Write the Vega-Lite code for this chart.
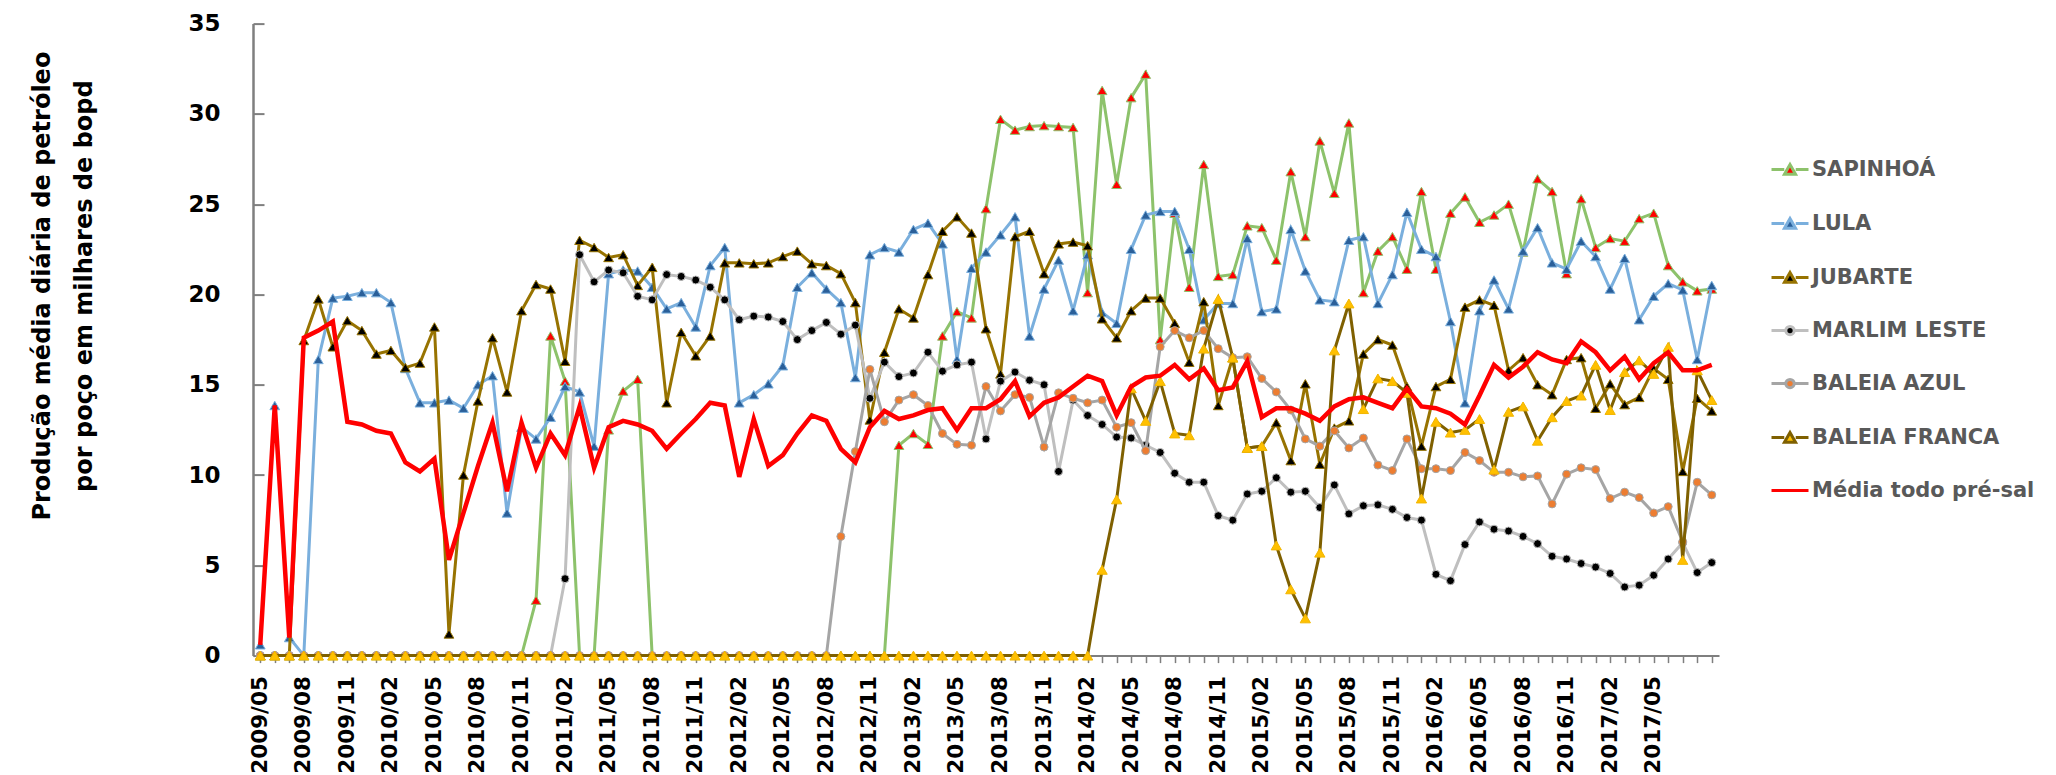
{
"$schema": "https://vega.github.io/schema/vega-lite/v6.json",
"width": 1466, "height": 632,
"autosize": {"type": "none"},
"padding": {"left": 253, "top": 23.6, "right": 337, "bottom": 119.4},
"background": "white",
"config": {"view": {"stroke": null}},
"resolve": {"axis": {"y": "independent"}},
"data": {"values": [
{"m":"2009/05","SAPINHOÁ":0,"LULA":0.6,"JUBARTE":0,"MARLIM LESTE":0,"BALEIA AZUL":0,"BALEIA FRANCA":0,"Média todo pré-sal":0.6},
{"m":"2009/06","SAPINHOÁ":0,"LULA":13.85,"JUBARTE":0,"MARLIM LESTE":0,"BALEIA AZUL":0,"BALEIA FRANCA":0,"Média todo pré-sal":13.85},
{"m":"2009/07","SAPINHOÁ":0,"LULA":1.0,"JUBARTE":0,"MARLIM LESTE":0,"BALEIA AZUL":0,"BALEIA FRANCA":0,"Média todo pré-sal":1.0},
{"m":"2009/08","SAPINHOÁ":0,"LULA":0,"JUBARTE":17.45,"MARLIM LESTE":0,"BALEIA AZUL":0,"BALEIA FRANCA":0,"Média todo pré-sal":17.6},
{"m":"2009/09","SAPINHOÁ":0,"LULA":16.4,"JUBARTE":19.75,"MARLIM LESTE":0,"BALEIA AZUL":0,"BALEIA FRANCA":0,"Média todo pré-sal":18.0},
{"m":"2009/10","SAPINHOÁ":0,"LULA":19.8,"JUBARTE":17.1,"MARLIM LESTE":0,"BALEIA AZUL":0,"BALEIA FRANCA":0,"Média todo pré-sal":18.5},
{"m":"2009/11","SAPINHOÁ":0,"LULA":19.9,"JUBARTE":18.55,"MARLIM LESTE":0,"BALEIA AZUL":0,"BALEIA FRANCA":0,"Média todo pré-sal":12.95},
{"m":"2009/12","SAPINHOÁ":0,"LULA":20.1,"JUBARTE":18.0,"MARLIM LESTE":0,"BALEIA AZUL":0,"BALEIA FRANCA":0,"Média todo pré-sal":12.8},
{"m":"2010/01","SAPINHOÁ":0,"LULA":20.1,"JUBARTE":16.7,"MARLIM LESTE":0,"BALEIA AZUL":0,"BALEIA FRANCA":0,"Média todo pré-sal":12.45},
{"m":"2010/02","SAPINHOÁ":0,"LULA":19.55,"JUBARTE":16.9,"MARLIM LESTE":0,"BALEIA AZUL":0,"BALEIA FRANCA":0,"Média todo pré-sal":12.3},
{"m":"2010/03","SAPINHOÁ":0,"LULA":15.9,"JUBARTE":15.95,"MARLIM LESTE":0,"BALEIA AZUL":0,"BALEIA FRANCA":0,"Média todo pré-sal":10.7},
{"m":"2010/04","SAPINHOÁ":0,"LULA":14.0,"JUBARTE":16.2,"MARLIM LESTE":0,"BALEIA AZUL":0,"BALEIA FRANCA":0,"Média todo pré-sal":10.2},
{"m":"2010/05","SAPINHOÁ":0,"LULA":14.0,"JUBARTE":18.2,"MARLIM LESTE":0,"BALEIA AZUL":0,"BALEIA FRANCA":0,"Média todo pré-sal":10.9},
{"m":"2010/06","SAPINHOÁ":0,"LULA":14.15,"JUBARTE":1.2,"MARLIM LESTE":0,"BALEIA AZUL":0,"BALEIA FRANCA":0,"Média todo pré-sal":5.3},
{"m":"2010/07","SAPINHOÁ":0,"LULA":13.7,"JUBARTE":10.0,"MARLIM LESTE":0,"BALEIA AZUL":0,"BALEIA FRANCA":0,"Média todo pré-sal":7.9},
{"m":"2010/08","SAPINHOÁ":0,"LULA":15.0,"JUBARTE":14.1,"MARLIM LESTE":0,"BALEIA AZUL":0,"BALEIA FRANCA":0,"Média todo pré-sal":10.5},
{"m":"2010/09","SAPINHOÁ":0,"LULA":15.5,"JUBARTE":17.6,"MARLIM LESTE":0,"BALEIA AZUL":0,"BALEIA FRANCA":0,"Média todo pré-sal":12.9},
{"m":"2010/10","SAPINHOÁ":0,"LULA":7.9,"JUBARTE":14.6,"MARLIM LESTE":0,"BALEIA AZUL":0,"BALEIA FRANCA":0,"Média todo pré-sal":9.1},
{"m":"2010/11","SAPINHOÁ":0,"LULA":12.65,"JUBARTE":19.1,"MARLIM LESTE":0,"BALEIA AZUL":0,"BALEIA FRANCA":0,"Média todo pré-sal":12.9},
{"m":"2010/12","SAPINHOÁ":3.07,"LULA":12.0,"JUBARTE":20.55,"MARLIM LESTE":0,"BALEIA AZUL":0,"BALEIA FRANCA":0,"Média todo pré-sal":10.4},
{"m":"2011/01","SAPINHOÁ":17.7,"LULA":13.2,"JUBARTE":20.3,"MARLIM LESTE":0,"BALEIA AZUL":0,"BALEIA FRANCA":0,"Média todo pré-sal":12.3},
{"m":"2011/02","SAPINHOÁ":15.2,"LULA":14.9,"JUBARTE":16.3,"MARLIM LESTE":4.26,"BALEIA AZUL":0,"BALEIA FRANCA":0,"Média todo pré-sal":11.1},
{"m":"2011/03","SAPINHOÁ":0,"LULA":14.6,"JUBARTE":23.0,"MARLIM LESTE":22.2,"BALEIA AZUL":0,"BALEIA FRANCA":0,"Média todo pré-sal":13.8},
{"m":"2011/04","SAPINHOÁ":0,"LULA":11.6,"JUBARTE":22.6,"MARLIM LESTE":20.7,"BALEIA AZUL":0,"BALEIA FRANCA":0,"Média todo pré-sal":10.4},
{"m":"2011/05","SAPINHOÁ":12.5,"LULA":21.15,"JUBARTE":22.05,"MARLIM LESTE":21.35,"BALEIA AZUL":0,"BALEIA FRANCA":0,"Média todo pré-sal":12.65},
{"m":"2011/06","SAPINHOÁ":14.65,"LULA":21.35,"JUBARTE":22.2,"MARLIM LESTE":21.2,"BALEIA AZUL":0,"BALEIA FRANCA":0,"Média todo pré-sal":13.0},
{"m":"2011/07","SAPINHOÁ":15.3,"LULA":21.3,"JUBARTE":20.5,"MARLIM LESTE":19.9,"BALEIA AZUL":0,"BALEIA FRANCA":0,"Média todo pré-sal":12.8},
{"m":"2011/08","SAPINHOÁ":0,"LULA":20.4,"JUBARTE":21.5,"MARLIM LESTE":19.7,"BALEIA AZUL":0,"BALEIA FRANCA":0,"Média todo pré-sal":12.45},
{"m":"2011/09","SAPINHOÁ":0,"LULA":19.2,"JUBARTE":14.0,"MARLIM LESTE":21.1,"BALEIA AZUL":0,"BALEIA FRANCA":0,"Média todo pré-sal":11.45},
{"m":"2011/10","SAPINHOÁ":0,"LULA":19.55,"JUBARTE":17.9,"MARLIM LESTE":21.0,"BALEIA AZUL":0,"BALEIA FRANCA":0,"Média todo pré-sal":12.3},
{"m":"2011/11","SAPINHOÁ":0,"LULA":18.2,"JUBARTE":16.6,"MARLIM LESTE":20.8,"BALEIA AZUL":0,"BALEIA FRANCA":0,"Média todo pré-sal":13.1},
{"m":"2011/12","SAPINHOÁ":0,"LULA":21.6,"JUBARTE":17.7,"MARLIM LESTE":20.4,"BALEIA AZUL":0,"BALEIA FRANCA":0,"Média todo pré-sal":14.0},
{"m":"2012/01","SAPINHOÁ":0,"LULA":22.6,"JUBARTE":21.75,"MARLIM LESTE":19.7,"BALEIA AZUL":0,"BALEIA FRANCA":0,"Média todo pré-sal":13.85},
{"m":"2012/02","SAPINHOÁ":0,"LULA":14.0,"JUBARTE":21.75,"MARLIM LESTE":18.6,"BALEIA AZUL":0,"BALEIA FRANCA":0,"Média todo pré-sal":9.9},
{"m":"2012/03","SAPINHOÁ":0,"LULA":14.45,"JUBARTE":21.7,"MARLIM LESTE":18.8,"BALEIA AZUL":0,"BALEIA FRANCA":0,"Média todo pré-sal":13.1},
{"m":"2012/04","SAPINHOÁ":0,"LULA":15.05,"JUBARTE":21.75,"MARLIM LESTE":18.75,"BALEIA AZUL":0,"BALEIA FRANCA":0,"Média todo pré-sal":10.5},
{"m":"2012/05","SAPINHOÁ":0,"LULA":16.05,"JUBARTE":22.1,"MARLIM LESTE":18.5,"BALEIA AZUL":0,"BALEIA FRANCA":0,"Média todo pré-sal":11.1},
{"m":"2012/06","SAPINHOÁ":0,"LULA":20.4,"JUBARTE":22.4,"MARLIM LESTE":17.5,"BALEIA AZUL":0,"BALEIA FRANCA":0,"Média todo pré-sal":12.3},
{"m":"2012/07","SAPINHOÁ":0,"LULA":21.2,"JUBARTE":21.7,"MARLIM LESTE":18.0,"BALEIA AZUL":0,"BALEIA FRANCA":0,"Média todo pré-sal":13.3},
{"m":"2012/08","SAPINHOÁ":0,"LULA":20.3,"JUBARTE":21.6,"MARLIM LESTE":18.45,"BALEIA AZUL":0,"BALEIA FRANCA":0,"Média todo pré-sal":13.0},
{"m":"2012/09","SAPINHOÁ":0,"LULA":19.55,"JUBARTE":21.15,"MARLIM LESTE":17.8,"BALEIA AZUL":6.6,"BALEIA FRANCA":0,"Média todo pré-sal":11.45},
{"m":"2012/10","SAPINHOÁ":0,"LULA":15.4,"JUBARTE":19.55,"MARLIM LESTE":18.3,"BALEIA AZUL":11.3,"BALEIA FRANCA":0,"Média todo pré-sal":10.7},
{"m":"2012/11","SAPINHOÁ":0,"LULA":22.2,"JUBARTE":13.05,"MARLIM LESTE":14.25,"BALEIA AZUL":15.85,"BALEIA FRANCA":0,"Média todo pré-sal":12.65},
{"m":"2012/12","SAPINHOÁ":0,"LULA":22.6,"JUBARTE":16.8,"MARLIM LESTE":16.25,"BALEIA AZUL":12.95,"BALEIA FRANCA":0,"Média todo pré-sal":13.55},
{"m":"2013/01","SAPINHOÁ":11.65,"LULA":22.35,"JUBARTE":19.2,"MARLIM LESTE":15.45,"BALEIA AZUL":14.15,"BALEIA FRANCA":0,"Média todo pré-sal":13.1},
{"m":"2013/02","SAPINHOÁ":12.3,"LULA":23.6,"JUBARTE":18.7,"MARLIM LESTE":15.65,"BALEIA AZUL":14.45,"BALEIA FRANCA":0,"Média todo pré-sal":13.3},
{"m":"2013/03","SAPINHOÁ":11.7,"LULA":23.95,"JUBARTE":21.1,"MARLIM LESTE":16.8,"BALEIA AZUL":13.85,"BALEIA FRANCA":0,"Média todo pré-sal":13.6},
{"m":"2013/04","SAPINHOÁ":17.7,"LULA":22.8,"JUBARTE":23.5,"MARLIM LESTE":15.75,"BALEIA AZUL":12.3,"BALEIA FRANCA":0,"Média todo pré-sal":13.7},
{"m":"2013/05","SAPINHOÁ":19.05,"LULA":16.4,"JUBARTE":24.3,"MARLIM LESTE":16.1,"BALEIA AZUL":11.7,"BALEIA FRANCA":0,"Média todo pré-sal":12.5},
{"m":"2013/06","SAPINHOÁ":18.7,"LULA":21.45,"JUBARTE":23.4,"MARLIM LESTE":16.25,"BALEIA AZUL":11.65,"BALEIA FRANCA":0,"Média todo pré-sal":13.7},
{"m":"2013/07","SAPINHOÁ":24.75,"LULA":22.35,"JUBARTE":18.1,"MARLIM LESTE":12.0,"BALEIA AZUL":14.9,"BALEIA FRANCA":0,"Média todo pré-sal":13.7},
{"m":"2013/08","SAPINHOÁ":29.7,"LULA":23.3,"JUBARTE":15.6,"MARLIM LESTE":15.2,"BALEIA AZUL":13.55,"BALEIA FRANCA":0,"Média todo pré-sal":14.2},
{"m":"2013/09","SAPINHOÁ":29.1,"LULA":24.3,"JUBARTE":23.2,"MARLIM LESTE":15.7,"BALEIA AZUL":14.45,"BALEIA FRANCA":0,"Média todo pré-sal":15.2},
{"m":"2013/10","SAPINHOÁ":29.3,"LULA":17.7,"JUBARTE":23.5,"MARLIM LESTE":15.25,"BALEIA AZUL":14.3,"BALEIA FRANCA":0,"Média todo pré-sal":13.25},
{"m":"2013/11","SAPINHOÁ":29.35,"LULA":20.3,"JUBARTE":21.15,"MARLIM LESTE":15.0,"BALEIA AZUL":11.55,"BALEIA FRANCA":0,"Média todo pré-sal":14.0},
{"m":"2013/12","SAPINHOÁ":29.3,"LULA":21.9,"JUBARTE":22.8,"MARLIM LESTE":10.2,"BALEIA AZUL":14.55,"BALEIA FRANCA":0,"Média todo pré-sal":14.3},
{"m":"2014/01","SAPINHOÁ":29.25,"LULA":19.1,"JUBARTE":22.9,"MARLIM LESTE":14.15,"BALEIA AZUL":14.25,"BALEIA FRANCA":0,"Média todo pré-sal":14.9},
{"m":"2014/02","SAPINHOÁ":20.1,"LULA":22.2,"JUBARTE":22.7,"MARLIM LESTE":13.3,"BALEIA AZUL":14.0,"BALEIA FRANCA":0,"Média todo pré-sal":15.5},
{"m":"2014/03","SAPINHOÁ":31.3,"LULA":19.0,"JUBARTE":18.65,"MARLIM LESTE":12.8,"BALEIA AZUL":14.15,"BALEIA FRANCA":4.75,"Média todo pré-sal":15.2},
{"m":"2014/04","SAPINHOÁ":26.1,"LULA":18.4,"JUBARTE":17.6,"MARLIM LESTE":12.1,"BALEIA AZUL":12.65,"BALEIA FRANCA":8.65,"Média todo pré-sal":13.3},
{"m":"2014/05","SAPINHOÁ":30.9,"LULA":22.5,"JUBARTE":19.1,"MARLIM LESTE":12.05,"BALEIA AZUL":12.9,"BALEIA FRANCA":14.8,"Média todo pré-sal":14.9},
{"m":"2014/06","SAPINHOÁ":32.2,"LULA":24.4,"JUBARTE":19.8,"MARLIM LESTE":11.65,"BALEIA AZUL":11.35,"BALEIA FRANCA":13.0,"Média todo pré-sal":15.4},
{"m":"2014/07","SAPINHOÁ":17.5,"LULA":24.6,"JUBARTE":19.8,"MARLIM LESTE":11.25,"BALEIA AZUL":17.1,"BALEIA FRANCA":15.2,"Média todo pré-sal":15.5},
{"m":"2014/08","SAPINHOÁ":24.5,"LULA":24.6,"JUBARTE":18.4,"MARLIM LESTE":10.1,"BALEIA AZUL":18.0,"BALEIA FRANCA":12.3,"Média todo pré-sal":16.1},
{"m":"2014/09","SAPINHOÁ":20.4,"LULA":22.5,"JUBARTE":16.25,"MARLIM LESTE":9.6,"BALEIA AZUL":17.6,"BALEIA FRANCA":12.2,"Média todo pré-sal":15.3},
{"m":"2014/10","SAPINHOÁ":27.2,"LULA":18.6,"JUBARTE":19.6,"MARLIM LESTE":9.6,"BALEIA AZUL":18.0,"BALEIA FRANCA":17.0,"Média todo pré-sal":15.9},
{"m":"2014/11","SAPINHOÁ":21.0,"LULA":19.5,"JUBARTE":13.85,"MARLIM LESTE":7.75,"BALEIA AZUL":17.0,"BALEIA FRANCA":19.75,"Média todo pré-sal":14.7},
{"m":"2014/12","SAPINHOÁ":21.1,"LULA":19.5,"JUBARTE":16.5,"MARLIM LESTE":7.5,"BALEIA AZUL":16.5,"BALEIA FRANCA":16.5,"Média todo pré-sal":14.85},
{"m":"2015/01","SAPINHOÁ":23.8,"LULA":23.1,"JUBARTE":11.5,"MARLIM LESTE":8.95,"BALEIA AZUL":16.55,"BALEIA FRANCA":11.5,"Média todo pré-sal":16.3},
{"m":"2015/02","SAPINHOÁ":23.7,"LULA":19.05,"JUBARTE":11.6,"MARLIM LESTE":9.1,"BALEIA AZUL":15.35,"BALEIA FRANCA":11.6,"Média todo pré-sal":13.2},
{"m":"2015/03","SAPINHOÁ":21.9,"LULA":19.2,"JUBARTE":12.9,"MARLIM LESTE":9.85,"BALEIA AZUL":14.6,"BALEIA FRANCA":6.1,"Média todo pré-sal":13.7},
{"m":"2015/04","SAPINHOÁ":26.8,"LULA":23.6,"JUBARTE":10.8,"MARLIM LESTE":9.05,"BALEIA AZUL":13.6,"BALEIA FRANCA":3.67,"Média todo pré-sal":13.7},
{"m":"2015/05","SAPINHOÁ":23.2,"LULA":21.3,"JUBARTE":15.05,"MARLIM LESTE":9.1,"BALEIA AZUL":12.0,"BALEIA FRANCA":2.06,"Média todo pré-sal":13.4},
{"m":"2015/06","SAPINHOÁ":28.5,"LULA":19.7,"JUBARTE":10.6,"MARLIM LESTE":8.2,"BALEIA AZUL":11.6,"BALEIA FRANCA":5.7,"Média todo pré-sal":13.0},
{"m":"2015/07","SAPINHOÁ":25.6,"LULA":19.6,"JUBARTE":12.6,"MARLIM LESTE":9.45,"BALEIA AZUL":12.45,"BALEIA FRANCA":16.9,"Média todo pré-sal":13.8},
{"m":"2015/08","SAPINHOÁ":29.5,"LULA":23.0,"JUBARTE":13.0,"MARLIM LESTE":7.85,"BALEIA AZUL":11.5,"BALEIA FRANCA":19.5,"Média todo pré-sal":14.2},
{"m":"2015/09","SAPINHOÁ":20.1,"LULA":23.2,"JUBARTE":16.7,"MARLIM LESTE":8.3,"BALEIA AZUL":12.05,"BALEIA FRANCA":13.65,"Média todo pré-sal":14.3},
{"m":"2015/10","SAPINHOÁ":22.4,"LULA":19.5,"JUBARTE":17.5,"MARLIM LESTE":8.35,"BALEIA AZUL":10.55,"BALEIA FRANCA":15.35,"Média todo pré-sal":14.0},
{"m":"2015/11","SAPINHOÁ":23.2,"LULA":21.1,"JUBARTE":17.2,"MARLIM LESTE":8.1,"BALEIA AZUL":10.25,"BALEIA FRANCA":15.2,"Média todo pré-sal":13.7},
{"m":"2015/12","SAPINHOÁ":21.4,"LULA":24.55,"JUBARTE":14.9,"MARLIM LESTE":7.65,"BALEIA AZUL":12.0,"BALEIA FRANCA":14.55,"Média todo pré-sal":14.8},
{"m":"2016/01","SAPINHOÁ":25.7,"LULA":22.5,"JUBARTE":11.6,"MARLIM LESTE":7.5,"BALEIA AZUL":10.35,"BALEIA FRANCA":8.7,"Média todo pré-sal":13.8},
{"m":"2016/02","SAPINHOÁ":21.4,"LULA":22.1,"JUBARTE":14.9,"MARLIM LESTE":4.5,"BALEIA AZUL":10.35,"BALEIA FRANCA":12.95,"Média todo pré-sal":13.7},
{"m":"2016/03","SAPINHOÁ":24.5,"LULA":18.5,"JUBARTE":15.3,"MARLIM LESTE":4.15,"BALEIA AZUL":10.25,"BALEIA FRANCA":12.35,"Média todo pré-sal":13.4},
{"m":"2016/04","SAPINHOÁ":25.4,"LULA":14.0,"JUBARTE":19.3,"MARLIM LESTE":6.15,"BALEIA AZUL":11.25,"BALEIA FRANCA":12.5,"Média todo pré-sal":12.8},
{"m":"2016/05","SAPINHOÁ":24.0,"LULA":19.1,"JUBARTE":19.7,"MARLIM LESTE":7.4,"BALEIA AZUL":10.8,"BALEIA FRANCA":13.1,"Média todo pré-sal":14.4},
{"m":"2016/06","SAPINHOÁ":24.4,"LULA":20.8,"JUBARTE":19.4,"MARLIM LESTE":7.0,"BALEIA AZUL":10.15,"BALEIA FRANCA":10.3,"Média todo pré-sal":16.1},
{"m":"2016/07","SAPINHOÁ":25.0,"LULA":19.2,"JUBARTE":15.8,"MARLIM LESTE":6.9,"BALEIA AZUL":10.15,"BALEIA FRANCA":13.5,"Média todo pré-sal":15.4},
{"m":"2016/08","SAPINHOÁ":22.35,"LULA":22.4,"JUBARTE":16.5,"MARLIM LESTE":6.6,"BALEIA AZUL":9.9,"BALEIA FRANCA":13.8,"Média todo pré-sal":16.0},
{"m":"2016/09","SAPINHOÁ":26.4,"LULA":23.7,"JUBARTE":15.0,"MARLIM LESTE":6.2,"BALEIA AZUL":9.95,"BALEIA FRANCA":11.9,"Média todo pré-sal":16.8},
{"m":"2016/10","SAPINHOÁ":25.7,"LULA":21.75,"JUBARTE":14.45,"MARLIM LESTE":5.5,"BALEIA AZUL":8.4,"BALEIA FRANCA":13.2,"Média todo pré-sal":16.4},
{"m":"2016/11","SAPINHOÁ":21.15,"LULA":21.4,"JUBARTE":16.4,"MARLIM LESTE":5.35,"BALEIA AZUL":10.05,"BALEIA FRANCA":14.1,"Média todo pré-sal":16.2},
{"m":"2016/12","SAPINHOÁ":25.3,"LULA":22.95,"JUBARTE":16.5,"MARLIM LESTE":5.1,"BALEIA AZUL":10.4,"BALEIA FRANCA":14.4,"Média todo pré-sal":17.4},
{"m":"2017/01","SAPINHOÁ":22.6,"LULA":22.1,"JUBARTE":13.7,"MARLIM LESTE":4.9,"BALEIA AZUL":10.3,"BALEIA FRANCA":16.1,"Média todo pré-sal":16.8},
{"m":"2017/02","SAPINHOÁ":23.1,"LULA":20.3,"JUBARTE":15.05,"MARLIM LESTE":4.55,"BALEIA AZUL":8.7,"BALEIA FRANCA":13.6,"Média todo pré-sal":15.8},
{"m":"2017/03","SAPINHOÁ":22.95,"LULA":22.0,"JUBARTE":13.9,"MARLIM LESTE":3.8,"BALEIA AZUL":9.05,"BALEIA FRANCA":15.7,"Média todo pré-sal":16.55},
{"m":"2017/04","SAPINHOÁ":24.2,"LULA":18.6,"JUBARTE":14.3,"MARLIM LESTE":3.9,"BALEIA AZUL":8.75,"BALEIA FRANCA":16.35,"Média todo pré-sal":15.3},
{"m":"2017/05","SAPINHOÁ":24.5,"LULA":19.9,"JUBARTE":15.9,"MARLIM LESTE":4.45,"BALEIA AZUL":7.9,"BALEIA FRANCA":15.6,"Média todo pré-sal":16.2},
{"m":"2017/06","SAPINHOÁ":21.6,"LULA":20.6,"JUBARTE":15.3,"MARLIM LESTE":5.35,"BALEIA AZUL":8.25,"BALEIA FRANCA":17.1,"Média todo pré-sal":16.8},
{"m":"2017/07","SAPINHOÁ":20.7,"LULA":20.25,"JUBARTE":10.2,"MARLIM LESTE":6.25,"BALEIA AZUL":6.3,"BALEIA FRANCA":5.3,"Média todo pré-sal":15.8},
{"m":"2017/08","SAPINHOÁ":20.2,"LULA":16.4,"JUBARTE":14.25,"MARLIM LESTE":4.6,"BALEIA AZUL":9.6,"BALEIA FRANCA":15.8,"Média todo pré-sal":15.8},
{"m":"2017/09","SAPINHOÁ":20.3,"LULA":20.5,"JUBARTE":13.55,"MARLIM LESTE":5.15,"BALEIA AZUL":8.9,"BALEIA FRANCA":14.15,"Média todo pré-sal":16.1}
]},
"encoding": {
  "x": {"field": "m", "type": "ordinal", "scale": {"type": "point", "padding": 0.5},
    "axis": {"title": null, "labelAngle": -90, "labelOverlap": false,
      "labelExpr": "(indexof(['02','05','08','11'], substring(datum.value,5,7)) >= 0 && datum.value <= '2017/05') ? datum.value : ''",
      "labelFont": "DejaVu Sans", "labelFontWeight": "bold", "labelFontSize": 21.5, "labelColor": "#000000",
      "labelPadding": 13, "tickSize": 7, "tickColor": "#7F7F7F", "tickWidth": 1.5,
      "domainColor": "#7F7F7F", "domainWidth": 2, "grid": false}}
},
"layer": [
  {"mark": {"type": "line", "stroke": "#8DC26B", "strokeWidth": 3},
   "encoding": {"y": {"field": "SAPINHOÁ", "type": "quantitative", "scale": {"domain": [0, 35], "nice": false},
     "axis": {"title": ["Produção média diária de petróleo", "por poço em milhares de bopd"],
       "values": [0, 5, 10, 15, 20, 25, 30, 35], "grid": false, "orient": "left",
       "tickSize": -11, "tickColor": "#7F7F7F", "tickWidth": 2, "domainColor": "#7F7F7F", "domainWidth": 2.5,
       "labelFont": "DejaVu Sans", "labelFontWeight": "bold", "labelFontSize": 23, "labelColor": "#000000", "labelPadding": 44,
       "titleFont": "DejaVu Sans", "titleFontSize": 24, "titleFontWeight": "bold", "titleColor": "#000000",
       "titleLineHeight": 42, "titleX": -199, "titleY": 262, "titleAlign": "center", "titleBaseline": "bottom", "titleAngle": -90}}}},
  {"mark": {"type": "point", "shape": "triangle-up", "filled": true, "fill": "#FF0000", "stroke": "#8DC26B", "strokeWidth": 1, "size": 95, "opacity": 1},
   "encoding": {"y": {"field": "SAPINHOÁ", "type": "quantitative", "scale": {"domain": [0, 35], "nice": false}, "axis": null}}},
  {"mark": {"type": "line", "stroke": "#7AAFDD", "strokeWidth": 3},
   "encoding": {"y": {"field": "LULA", "type": "quantitative", "scale": {"domain": [0, 35], "nice": false}, "axis": null}}},
  {"mark": {"type": "point", "shape": "triangle-up", "filled": true, "fill": "#2A5F99", "stroke": "#7AAFDD", "strokeWidth": 1, "size": 95, "opacity": 1},
   "encoding": {"y": {"field": "LULA", "type": "quantitative", "scale": {"domain": [0, 35], "nice": false}, "axis": null}}},
  {"mark": {"type": "line", "stroke": "#977301", "strokeWidth": 3},
   "encoding": {"y": {"field": "JUBARTE", "type": "quantitative", "scale": {"domain": [0, 35], "nice": false}, "axis": null}}},
  {"mark": {"type": "point", "shape": "triangle-up", "filled": true, "fill": "#000000", "stroke": "#977301", "strokeWidth": 1, "size": 95, "opacity": 1},
   "encoding": {"y": {"field": "JUBARTE", "type": "quantitative", "scale": {"domain": [0, 35], "nice": false}, "axis": null}}},
  {"mark": {"type": "line", "stroke": "#BFBFBF", "strokeWidth": 3},
   "encoding": {"y": {"field": "MARLIM LESTE", "type": "quantitative", "scale": {"domain": [0, 35], "nice": false}, "axis": null}}},
  {"mark": {"type": "point", "shape": "circle", "filled": true, "fill": "#000000", "stroke": "#BFBFBF", "strokeWidth": 1, "size": 64, "opacity": 1},
   "encoding": {"y": {"field": "MARLIM LESTE", "type": "quantitative", "scale": {"domain": [0, 35], "nice": false}, "axis": null}}},
  {"mark": {"type": "line", "stroke": "#A5A5A5", "strokeWidth": 3},
   "encoding": {"y": {"field": "BALEIA AZUL", "type": "quantitative", "scale": {"domain": [0, 35], "nice": false}, "axis": null}}},
  {"mark": {"type": "point", "shape": "circle", "filled": true, "fill": "#ED7D31", "stroke": "#A5A5A5", "strokeWidth": 1, "size": 64, "opacity": 1},
   "encoding": {"y": {"field": "BALEIA AZUL", "type": "quantitative", "scale": {"domain": [0, 35], "nice": false}, "axis": null}}},
  {"mark": {"type": "line", "stroke": "#7F6000", "strokeWidth": 3},
   "encoding": {"y": {"field": "BALEIA FRANCA", "type": "quantitative", "scale": {"domain": [0, 35], "nice": false}, "axis": null}}},
  {"mark": {"type": "point", "shape": "triangle-up", "filled": true, "fill": "#FFC000", "stroke": "#F2B600", "strokeWidth": 1, "size": 105, "opacity": 1},
   "encoding": {"y": {"field": "BALEIA FRANCA", "type": "quantitative", "scale": {"domain": [0, 35], "nice": false}, "axis": null}}},
  {"mark": {"type": "line", "stroke": "#FF0000", "strokeWidth": 4.5},
   "encoding": {"y": {"field": "Média todo pré-sal", "type": "quantitative", "scale": {"domain": [0, 35], "nice": false}, "axis": null}}},
  {"transform": [
     {"fold": ["SAPINHOÁ", "LULA", "JUBARTE", "MARLIM LESTE", "BALEIA AZUL", "BALEIA FRANCA", "Média todo pré-sal"], "as": ["series", "v"]},
     {"filter": "false"}],
   "mark": {"type": "point", "filled": true, "strokeWidth": 3, "opacity": 1},
   "encoding": {
     "y": {"field": "v", "type": "quantitative", "scale": {"domain": [0, 35], "nice": false}, "axis": null},
     "stroke": {"field": "series", "type": "nominal",
       "scale": {"domain": ["SAPINHOÁ", "LULA", "JUBARTE", "MARLIM LESTE", "BALEIA AZUL", "BALEIA FRANCA", "Média todo pré-sal"],
                 "range": ["#8DC26B", "#7AAFDD", "#977301", "#BFBFBF", "#A5A5A5", "#7F6000", "#FF0000"]},
       "legend": {"orient": "none", "legendX": 1526, "legendY": 135, "title": null,
         "labelFont": "DejaVu Sans", "labelFontSize": 21, "labelFontWeight": "bold", "labelColor": "#595959",
         "symbolSize": 342, "symbolStrokeWidth": 3, "rowPadding": 31, "labelOffset": 11, "labelLimit": 400, "symbolOpacity": 1}},
     "fill": {"field": "series", "type": "nominal",
       "scale": {"domain": ["SAPINHOÁ", "LULA", "JUBARTE", "MARLIM LESTE", "BALEIA AZUL", "BALEIA FRANCA", "Média todo pré-sal"],
                 "range": ["#FF0000", "#2A5F99", "#000000", "#000000", "#ED7D31", "#FFC000", "#FF0000"]},
       "legend": {"orient": "none", "legendX": 1526, "legendY": 135, "title": null,
         "labelFont": "DejaVu Sans", "labelFontSize": 21, "labelFontWeight": "bold", "labelColor": "#595959",
         "symbolSize": 342, "symbolStrokeWidth": 3, "rowPadding": 31, "labelOffset": 11, "labelLimit": 400, "symbolOpacity": 1}},
     "shape": {"field": "series", "type": "nominal",
       "scale": {"domain": ["SAPINHOÁ", "LULA", "JUBARTE", "MARLIM LESTE", "BALEIA AZUL", "BALEIA FRANCA", "Média todo pré-sal"],
                 "range": ["M-2,0H-0.62M0.62,0H2M-0.6,0.5L0,-0.55L0.6,0.5Z",
                           "M-2,0H-0.62M0.62,0H2M-0.6,0.5L0,-0.55L0.6,0.5Z",
                           "M-2,0H-0.62M0.62,0H2M-0.6,0.5L0,-0.55L0.6,0.5Z",
                           "M-2,0H-0.5M0.5,0H2M-0.45,0A0.45,0.45,0,1,1,0.45,0A0.45,0.45,0,1,1,-0.45,0Z",
                           "M-2,0H-0.5M0.5,0H2M-0.45,0A0.45,0.45,0,1,1,0.45,0A0.45,0.45,0,1,1,-0.45,0Z",
                           "M-2,0H-0.62M0.62,0H2M-0.6,0.5L0,-0.55L0.6,0.5Z",
                           "M-2,0H2"]},
       "legend": {"orient": "none", "legendX": 1526, "legendY": 135, "title": null,
         "labelFont": "DejaVu Sans", "labelFontSize": 21, "labelFontWeight": "bold", "labelColor": "#595959",
         "symbolSize": 342, "symbolStrokeWidth": 3, "rowPadding": 31, "labelOffset": 11, "labelLimit": 400, "symbolOpacity": 1}}
   }}
]
}
